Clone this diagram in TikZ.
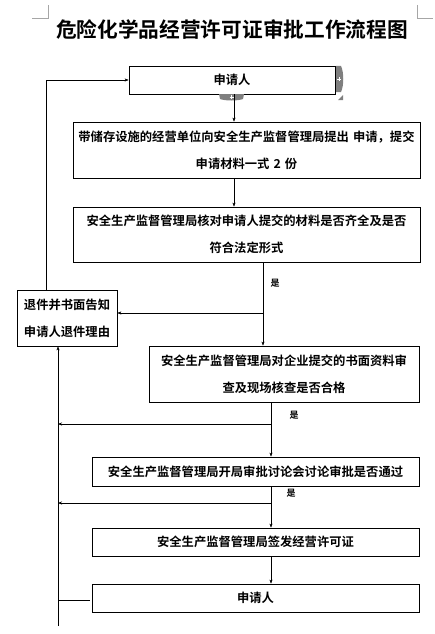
\documentclass[tikz,border=0pt]{standalone}
\usepackage{fontspec}
\setmainfont{Noto Sans CJK SC}
\newfontfamily\cjkbold{Noto Sans CJK SC Bold}
\usetikzlibrary{arrows.meta}
\definecolor{tabgray}{HTML}{7F7F7F}
\definecolor{markgray}{HTML}{A6A6A6}
\begin{document}
\begin{tikzpicture}[x=1pt,y=-1pt,
  box/.style={draw,thick,rectangle,inner sep=0pt,align=center,font=\cjkbold\fontsize{12.3}{27}\selectfont},
  yes/.style={font=\cjkbold\fontsize{9}{9}\selectfont},
  >={Stealth[length=4pt,width=3pt]}]
\useasboundingbox (0,0) rectangle (435,634);
% page corner marks
\draw[markgray] (32,18) -- (48,18) -- (48,5);
\draw[markgray] (417,5) -- (417,18) -- (433,18);
\node[font=\cjkbold\fontsize{20.7}{21}\selectfont] (title) at (232,30) {危险化学品经营许可证审批工作流程图};
% boxes
\node[box,minimum width=206,minimum height=28] (app) at (232,80) {申请人};
\node[box,text width=347,minimum height=56] (submit) at (246.5,150) {带储存设施的经营单位向安全生产监督管理局提出 申请，提交\\申请材料一式 2 份};
\node[box,text width=347,minimum height=55] (check) at (246.5,234.5) {安全生产监督管理局核对申请人提交的材料是否齐全及是否\\符合法定形式};
\node[box,text width=100,minimum height=56] (reject) at (67,318) {退件并书面告知\\申请人退件理由};
\node[box,text width=270,minimum height=56] (review) at (284,374) {安全生产监督管理局对企业提交的书面资料审\\查及现场核查是否合格};
\node[box,minimum width=327,minimum height=29] (meeting) at (255.5,471.5) {安全生产监督管理局开局审批讨论会讨论审批是否通过};
\node[box,minimum width=327,minimum height=28] (issue) at (255.5,542) {安全生产监督管理局签发经营许可证};
\node[box,minimum width=327,minimum height=28] (app2) at (255.5,598) {申请人};
% editing handles
\fill[tabgray] (336,66) -- (341,66) .. controls (344,72) and (344,86) .. (341,92) -- (336,92) -- cycle;
\draw[white,line width=0.8pt] (337,79) -- (341,79) (339,77) -- (339,81);
\fill[tabgray] (219,94) -- (244,94) -- (243,99) .. controls (238,101) and (225,101) .. (220,99) -- cycle;
\draw[white,line width=0.8pt] (229.5,97) -- (233.5,97) (231.5,95) -- (231.5,99);
\fill[tabgray] (343,95) -- (343,100) -- (338,100) -- cycle;
% connectors
\coordinate (c1) at (234,0);
\coordinate (c2) at (263,0);
\coordinate (c3) at (271,0);
\coordinate (ret) at (46,80);
\coordinate (back) at (58,626);
\coordinate (b1) at (263,313);
\coordinate (b2) at (271,424);
\coordinate (b3) at (271,503);
\coordinate (l7) at (90,600);
\draw[->] (app.south -| c1) -- (submit.north -| c1);
\draw[->] (submit.south -| c1) -- (check.north -| c1);
\draw[->] (check.south -| c2) -- (review.north -| c2);
\draw[->] (b1) -- (b1 -| reject.east);
\node[yes,anchor=west] (yes1) at (267,283) {是};
\draw[->] (reject.north -| ret) -- (ret) -- (app.west);
\draw[->] (review.south -| c3) -- (meeting.north -| c3);
\draw[->] (b2) -- (b2 -| back);
\node[yes,anchor=west] (yes2) at (286,415) {是};
\draw[->] (meeting.south -| c3) -- (issue.north -| c3);
\draw[->] (b3) -- (b3 -| back);
\node[yes,anchor=west] (yes3) at (283,493) {是};
\draw[->] (issue.south -| c3) -- (app2.north -| c3);
\draw (l7) -- (l7 -| back);
\draw[->] (back) -- (back |- reject.south);
\end{tikzpicture}
\end{document}
